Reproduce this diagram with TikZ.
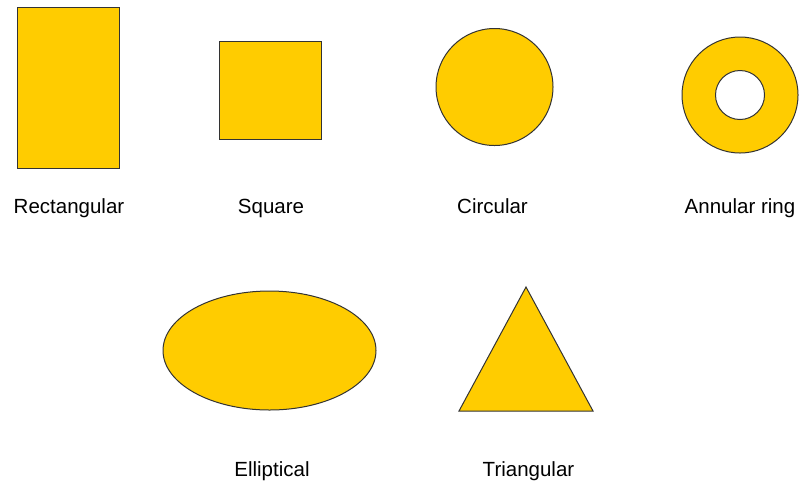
\documentclass[tikz,border=0pt]{standalone}
\usepackage{fontspec}
\setmainfont{Liberation Sans}
\definecolor{shapeyellow}{HTML}{FFCC00}
\definecolor{edgegray}{HTML}{333333}
\tikzset{
  shapefill/.style={draw=edgegray, fill=shapeyellow, line width=1pt, inner sep=0pt, outer sep=0pt},
  shapename/.style={anchor=base, inner sep=0pt, font=\fontsize{20.5}{24}\selectfont}
}
\begin{document}
\begin{tikzpicture}[x=1pt, y=-1pt]
\useasboundingbox (0,0) rectangle (799,483);
\node[shapefill, rectangle, minimum width=102pt, minimum height=161pt] (rect) at (68,87.5) {};
\node[shapefill, rectangle, minimum width=102pt, minimum height=98pt] (sq) at (270,90) {};
\node[shapefill, circle, minimum size=117pt] (circ) at (494.5,87) {};
\node[shapefill, circle, minimum size=116pt] (ring) at (740,95) {};
\node[draw=edgegray, fill=white, line width=1pt, circle, minimum size=49pt, inner sep=0pt] (hole) at (ring.center) {};
\draw[shapefill] (269.5,350.5) ellipse (106.5 and 59.5);
\coordinate (ell) at (269.5,350.5);
\coordinate (tritop) at (526,287);
\coordinate (trileft) at (459,411);
\coordinate (triright) at (593,411);
\draw[shapefill, line join=miter] (tritop) -- (triright) -- (trileft) -- cycle;
\node[shapename] (lrect) at (69,213) {Rectangular};
\node[shapename] (lsq) at (271,213) {Square};
\node[shapename] (lcirc) at (492.5,213) {Circular};
\node[shapename] (lring) at (740,213) {Annular ring};
\node[shapename] (lell) at (272,476) {Elliptical};
\node[shapename] (ltri) at (528.5,476) {Triangular};
\end{tikzpicture}
\end{document}
